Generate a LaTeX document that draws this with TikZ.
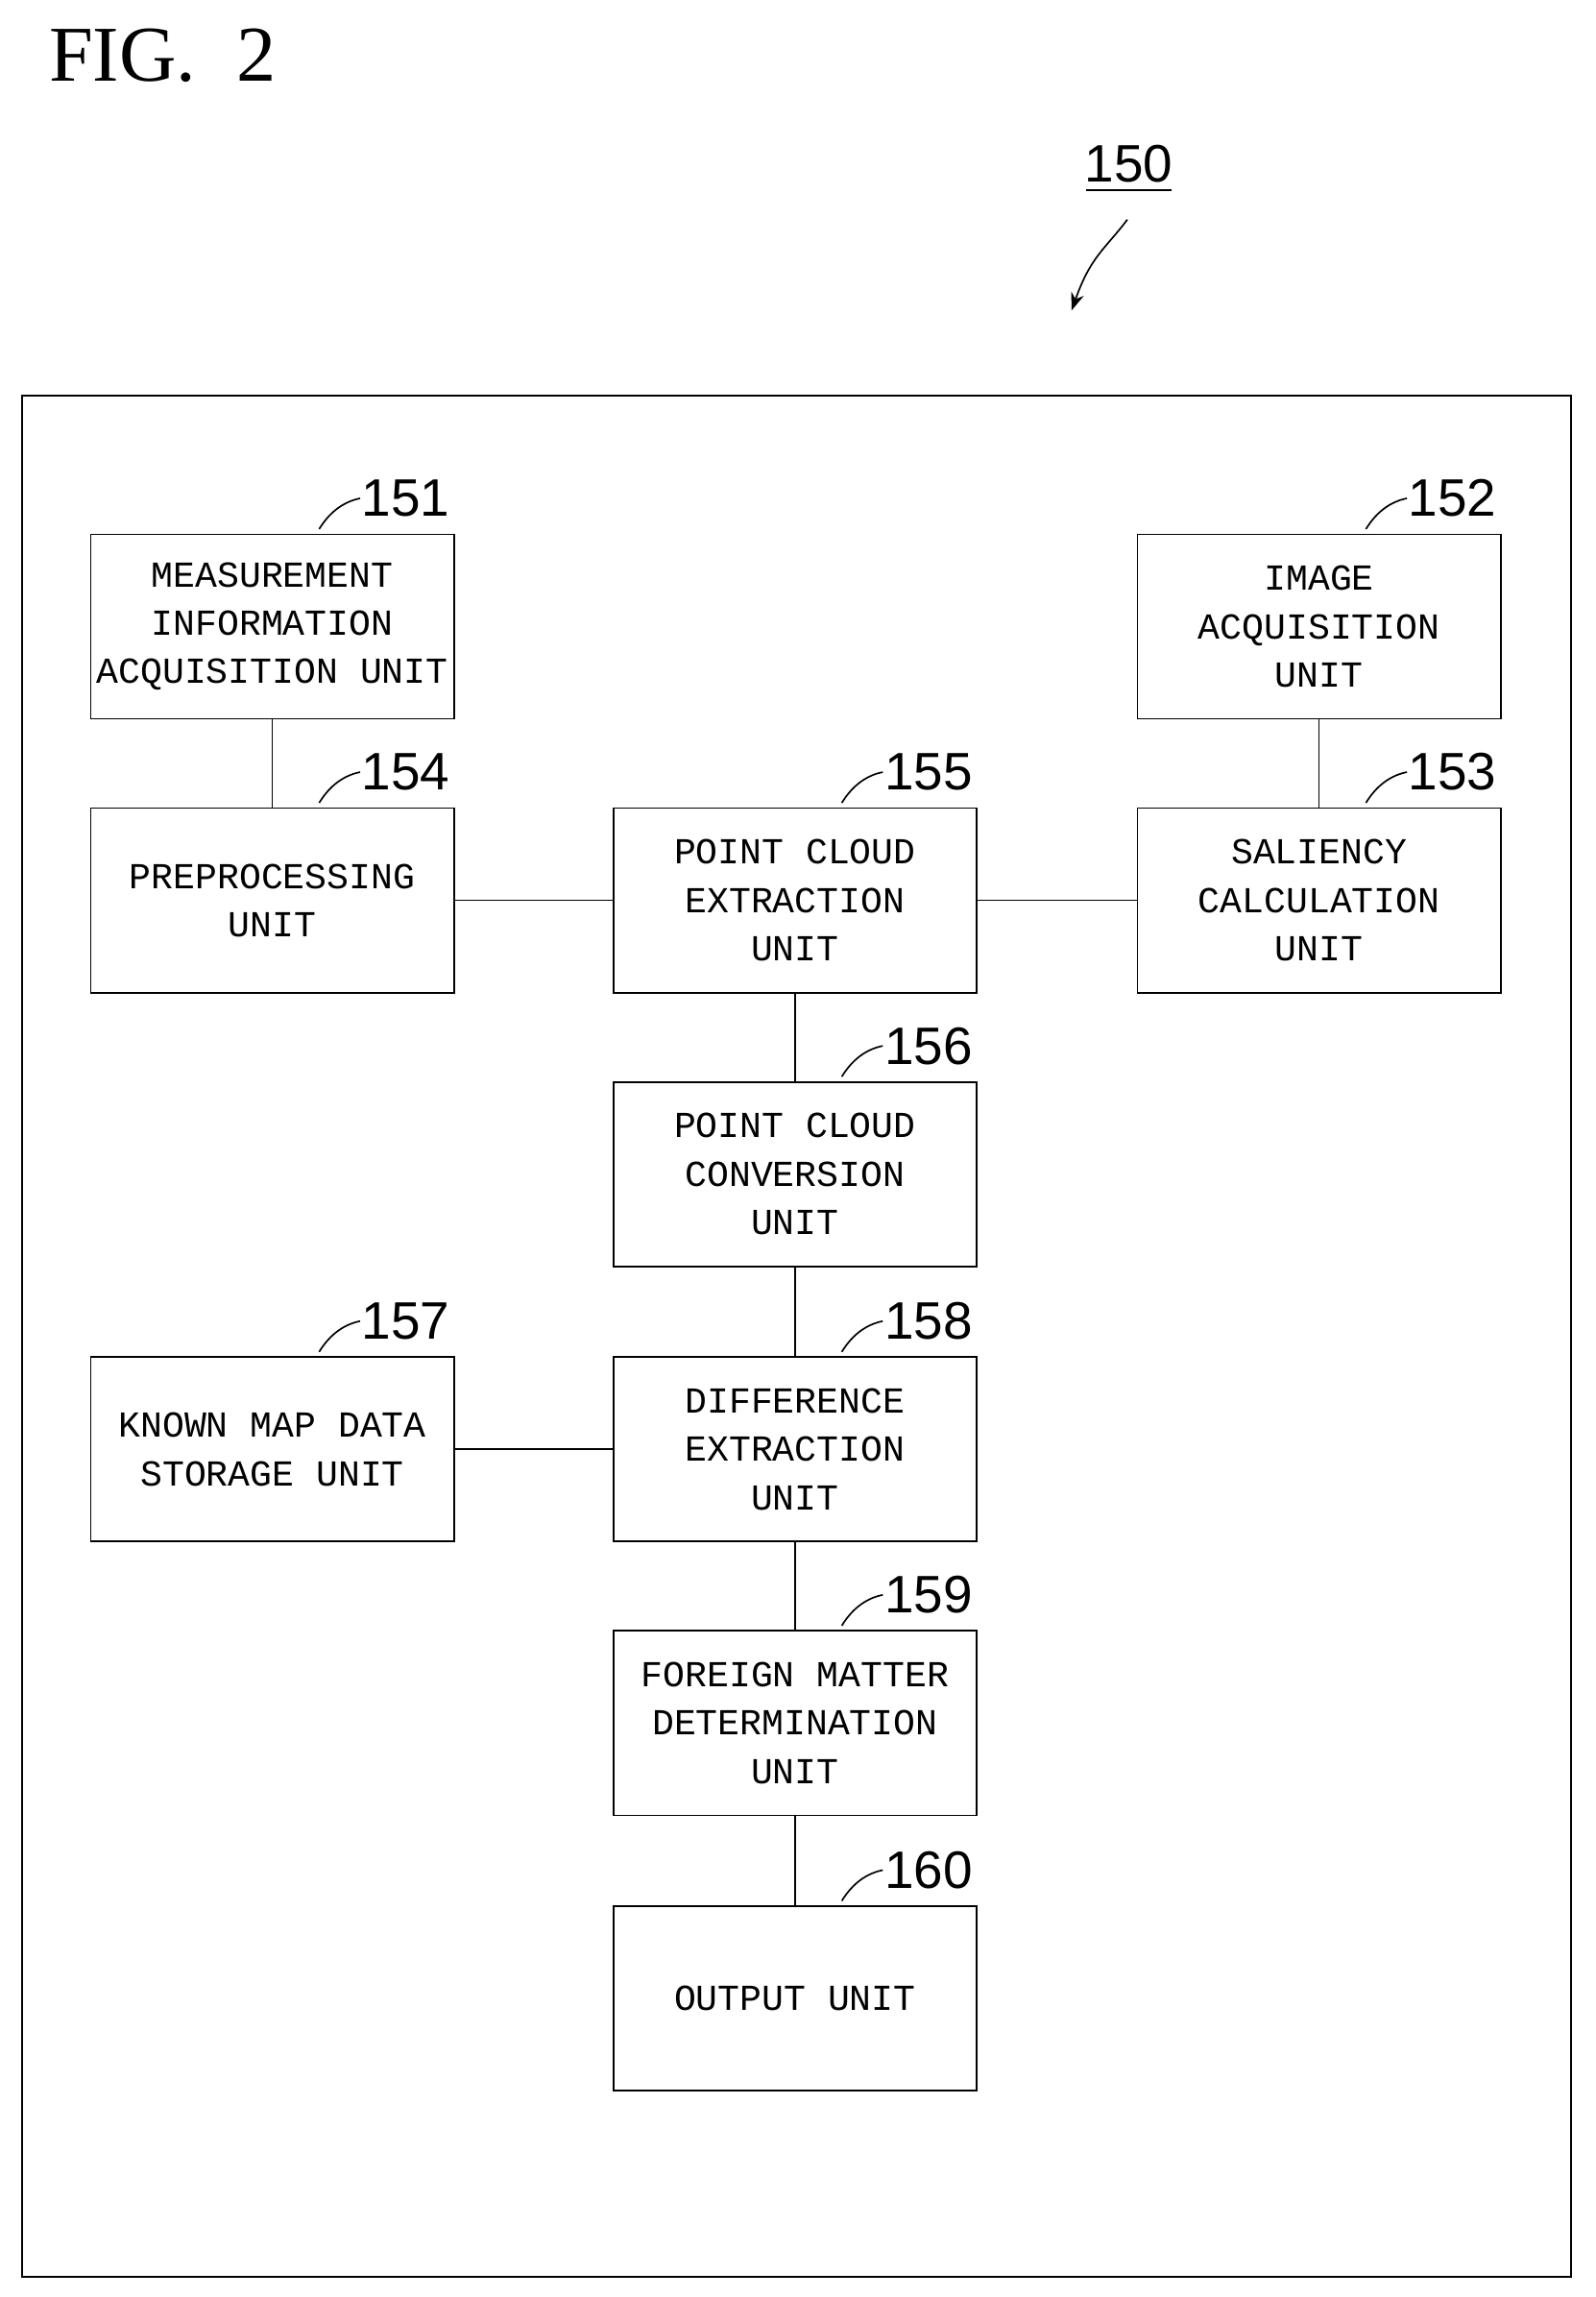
\documentclass[tikz,border=0pt]{standalone}
\usepackage{fontspec}
\setmainfont{Liberation Serif}
\newfontfamily\unitfont{Liberation Mono}
\newfontfamily\numfont{Liberation Sans}
\usetikzlibrary{positioning,arrows.meta,calc}

\begin{document}
\begin{tikzpicture}[
    x=1pt, y=-1pt,
    unit/.style={rectangle, draw, line width=1.2pt, minimum height=126pt,
                 minimum width=248pt, align=center, inner sep=0pt,
                 font=\unitfont\fontsize{25}{33}\selectfont},
    link/.style={line width=1.1pt},
    refnum/.style={font=\numfont\fontsize{36}{36}\selectfont, anchor=west, inner sep=1pt}
]
  \useasboundingbox (0,0) rectangle (1090,1569);
  \node[font=\fontsize{54}{54}\selectfont, anchor=west] (fig) at (30,38) {FIG.\hspace{28pt}2};

  % Outer frame and its number
  \draw[line width=1.2pt] (15,270) rectangle (1073,1555);
  \node[font=\numfont\fontsize{36}{36}\selectfont] (n150) at (771,112) {150};
  \draw[line width=1.2pt] (742,130) -- (800,130);
  \coordinate (tip150) at (732,212);
  \draw[line width=1.1pt, -{Stealth[length=12pt]}] (770,150) .. controls (755,170) and (745,175) .. (tip150);

  % Units
  \node[unit] (meas) at (186,428) {MEASUREMENT\\INFORMATION\\ACQUISITION UNIT};
  \node[unit] (image) at (901,428) {IMAGE\\ACQUISITION\\UNIT};
  \node[unit] (pre) at (186,615) {PREPROCESSING\\UNIT};
  \node[unit] (pcext) at (543,615) {POINT CLOUD\\EXTRACTION\\UNIT};
  \node[unit] (sal) at (901,615) {SALIENCY\\CALCULATION\\UNIT};
  \node[unit] (pcconv) at (543,802) {POINT CLOUD\\CONVERSION\\UNIT};
  \node[unit] (known) at (186,990) {KNOWN MAP DATA\\STORAGE UNIT};
  \node[unit] (diff) at (543,990) {DIFFERENCE\\EXTRACTION\\UNIT};
  \node[unit] (foreign) at (543,1177) {FOREIGN MATTER\\DETERMINATION\\UNIT};
  \node[unit] (out) at (543,1365) {OUTPUT UNIT};

  % Reference numbers
  \foreach \u/\n in {meas/151, image/152, sal/153, pre/154, pcext/155,
                     pcconv/156, known/157, diff/158, foreign/159, out/160} {
    \node[refnum] (lbl\n) at ($(\u.north)+(60,-24)$) {\n};
    \draw[line width=1.1pt] ($(\u.north)+(32,-3)$) .. controls ($(\u.north)+(40,-16)$) and ($(\u.north)+(50,-22)$) .. (lbl\n.west);
  }

  % Connections
  \draw[link] (meas) -- (pre);
  \draw[link] (image) -- (sal);
  \draw[link] (pre) -- (pcext);
  \draw[link] (pcext) -- (sal);
  \draw[link] (pcext) -- (pcconv);
  \draw[link] (pcconv) -- (diff);
  \draw[link] (known) -- (diff);
  \draw[link] (diff) -- (foreign);
  \draw[link] (foreign) -- (out);
\end{tikzpicture}
\end{document}
